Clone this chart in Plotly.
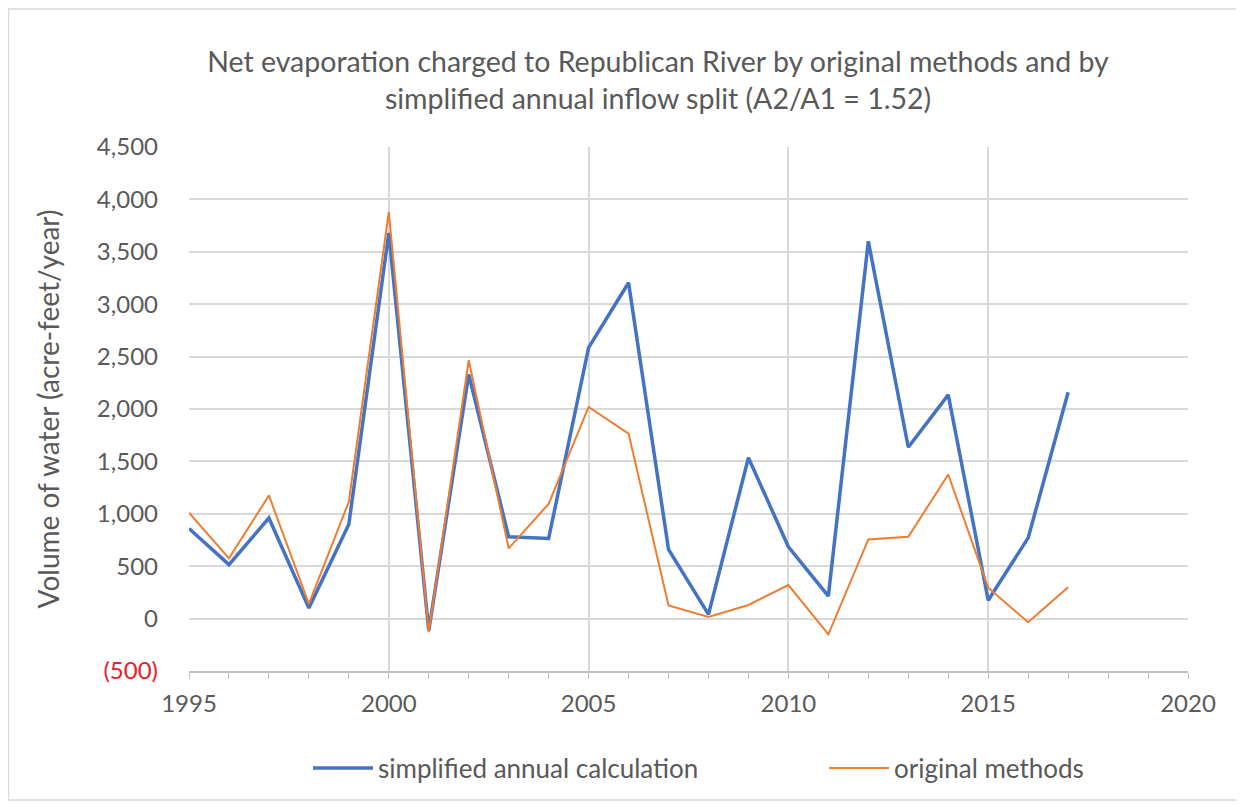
import plotly.graph_objects as go

years = list(range(1995, 2018))

simplified_annual = [860, 515, 960, 100, 900, 3680, -115, 2330, 780, 765, 2585,
                     3205, 660, 40, 1535, 685, 215, 3600, 1635, 2135, 175, 770, 2160]
original_methods = [1010, 575, 1175, 140, 1115, 3880, -130, 2465, 670, 1095, 2020,
                    1765, 125, 15, 130, 320, -150, 755, 780, 1375, 295, -35, 300]

y_ticks = list(range(-500, 5000, 500))
x_ticks = [1995, 2000, 2005, 2010, 2015, 2020]

title_text = ("Net evaporation charged to Republican River by original methods and by<br>"
              "simplified annual inflow split (A2/A1 = 1.52)")


def fmt_tick(v):
    # excel style: negatives in red parentheses
    if v < 0:
        return f"<span style='color:#E8202A'>({abs(v):,})</span>"
    return f"{v:,}"


# page body has an 8px margin, so figure coords are screen - 8
W, H = 1244, 806
L, R, T, B = 181, 64, 139, 143
pw, ph = W - L - R, H - T - B

font = "Lato, 'Open Sans', sans-serif"
gray = "#595959"

fig = go.Figure()
fig.add_trace(go.Scatter(x=years, y=simplified_annual, mode="lines",
                         name="simplified annual calculation", legend="legend",
                         line=dict(color="#4472C4", width=3.5)))
fig.add_trace(go.Scatter(x=years, y=original_methods, mode="lines",
                         name="original methods", legend="legend2",
                         line=dict(color="#ED7D31", width=2)))

# chart area border
fig.add_shape(type="rect", xref="paper", yref="paper",
              x0=(0.5 - L) / pw, x1=(1232 - L) / pw,
              y0=(H - B - 792) / ph, y1=(H - B - 1) / ph,
              line=dict(color="#D9D9D9", width=1.5), layer="below")

legend_style = dict(orientation="h", xref="container", yref="container",
                    xanchor="left", yanchor="middle", y=1 - 760 / H,
                    font=dict(size=26, color=gray, family=font),
                    itemwidth=60, bgcolor="rgba(0,0,0,0)")

fig.update_layout(
    width=W, height=H,
    margin=dict(l=L, r=R, t=T, b=B, autoexpand=False),
    paper_bgcolor="white", plot_bgcolor="white",
    font=dict(family=font, color=gray, size=24),
    title=dict(text=title_text, x=650 / W, xanchor="center",
               y=1 - 64 / H, yanchor="middle",
               font=dict(size=28.5, color=gray, family=font)),
    showlegend=True,
    legend=dict(legend_style, x=300 / W),
    legend2=dict(legend_style, x=816 / W),
    xaxis=dict(range=[1995, 2020], tickvals=x_ticks,
               showgrid=True, gridcolor="#D9D9D9", gridwidth=1.5,
               showline=True, linecolor="#BFBFBF", linewidth=1.5,
               ticks="outside", ticklen=6, tickcolor="#BFBFBF",
               ticklabelstandoff=4,
               minor=dict(dtick=1, ticks="outside", ticklen=6, tickcolor="#BFBFBF", showgrid=False),
               tickfont=dict(size=24, color=gray), zeroline=False),
    yaxis=dict(range=[-500, 4500], tickvals=y_ticks,
               ticktext=[fmt_tick(v) for v in y_ticks],
               showgrid=True, gridcolor="#D9D9D9", gridwidth=1.5,
               zeroline=False, showline=False, ticks="",
               ticklabelstandoff=30,
               tickfont=dict(size=24, color=gray),
               title=dict(text="Volume of water (acre-feet/year)", standoff=29,
                          font=dict(size=28, color=gray))),
)

fig.write_html("out.html")
